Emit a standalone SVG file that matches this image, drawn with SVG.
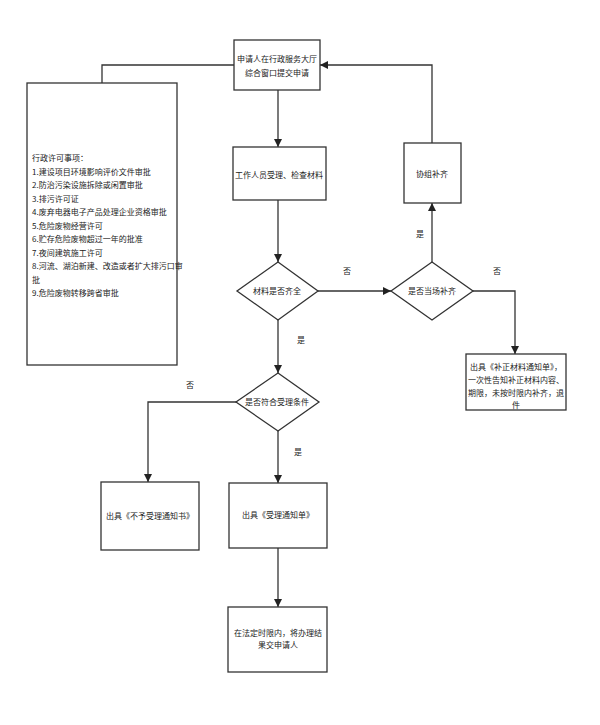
<svg xmlns="http://www.w3.org/2000/svg" width="600" height="725" viewBox="0 0 600 725">
<style>
.box{fill:#fff;stroke:#333;stroke-width:1.3}
.t{font-family:"Noto Sans CJK SC","Liberation Sans",sans-serif;font-size:8px;fill:#222}
.c{text-anchor:middle}
.ln{fill:none;stroke:#333;stroke-width:1.3}
</style>
<defs>
<marker id="ah" viewBox="0 0 10 10" refX="10" refY="5" markerWidth="8" markerHeight="8" markerUnits="userSpaceOnUse" orient="auto">
<path d="M0,0 L10,5 L0,10 z" fill="#222"/>
</marker>
</defs>
<rect width="600" height="725" fill="#fff"/>
<g id="connectors">
<path class="ln" d="M278,90 V147" marker-end="url(#ah)"/>
<path class="ln" d="M278,200 V262" marker-end="url(#ah)"/>
<path class="ln" d="M318,291 H391" marker-end="url(#ah)"/>
<path class="ln" d="M432,262 V203" marker-end="url(#ah)"/>
<path class="ln" d="M432,143 V65 H320" marker-end="url(#ah)"/>
<path class="ln" d="M234,65 H102 V83"/>
<path class="ln" d="M473,291 H515 V354" marker-end="url(#ah)"/>
<path class="ln" d="M278,320 V373" marker-end="url(#ah)"/>
<path class="ln" d="M236,402 H148 V482" marker-end="url(#ah)"/>
<path class="ln" d="M278,431 V483" marker-end="url(#ah)"/>
<path class="ln" d="M278,548 V607" marker-end="url(#ah)"/>
<text class="t c" x="347" y="274">否</text>
<text class="t c" x="497" y="274">否</text>
<text class="t c" x="301" y="343">是</text>
<text class="t c" x="420" y="237">是</text>
<text class="t c" x="190" y="388">否</text>
<text class="t c" x="298" y="455">是</text>
</g>
<g id="apply">
<rect class="box" x="234" y="40" width="86" height="50"/>
<text class="t c" x="277" y="62">申请人在行政服务大厅</text>
<text class="t c" x="277" y="76">综合窗口提交申请</text>
</g>
<g id="items">
<rect class="box" x="27" y="83" width="150" height="282"/>
<text class="t" x="32" y="161">行政许可事项：</text>
<text class="t" x="32" y="174.5">1.建设项目环境影响评价文件审批</text>
<text class="t" x="32" y="188">2.防治污染设施拆除或闲置审批</text>
<text class="t" x="32" y="201.5">3.排污许可证</text>
<text class="t" x="32" y="215">4.废弃电器电子产品处理企业资格审批</text>
<text class="t" x="32" y="228.5">5.危险废物经营许可</text>
<text class="t" x="32" y="242">6.贮存危险废物超过一年的批准</text>
<text class="t" x="32" y="255.5">7.夜间建筑施工许可</text>
<text class="t" x="32" y="269">8.河流、湖泊新建、改造或者扩大排污口审</text>
<text class="t" x="32" y="282.5">批</text>
<text class="t" x="32" y="296">9.危险废物转移跨省审批</text>
</g>
<g id="check">
<rect class="box" x="233" y="147" width="93" height="53"/>
<text class="t c" x="279" y="178">工作人员受理、检查材料</text>
</g>
<g id="assist">
<rect class="box" x="404" y="143" width="57" height="60"/>
<text class="t c" x="432" y="177">协组补齐</text>
</g>
<g id="complete">
<polygon class="box" points="278,262 318,291 278,320 237,291"/>
<text class="t c" x="277" y="294">材料是否齐全</text>
</g>
<g id="onsite">
<polygon class="box" points="432,262 473,291 432,320 391,291"/>
<text class="t c" x="432" y="294">是否当场补齐</text>
</g>
<g id="notice">
<rect class="box" x="466" y="354" width="100" height="56"/>
<text class="t c" x="516" y="370">出具《补正材料通知单》，</text>
<text class="t c" x="516" y="383">一次性告知补正材料内容、</text>
<text class="t c" x="516" y="396">期限，未按时限内补齐，退</text>
<text class="t c" x="516" y="408">件</text>
</g>
<g id="condition">
<polygon class="box" points="278,373 319,402 278,431 236,402"/>
<text class="t c" x="277" y="405">是否符合受理条件</text>
</g>
<g id="reject">
<rect class="box" x="101" y="482" width="98" height="68"/>
<text class="t c" x="150" y="519">出具《不予受理通知书》</text>
</g>
<g id="accept">
<rect class="box" x="229" y="483" width="98" height="65"/>
<text class="t c" x="278" y="518">出具《受理通知单》</text>
</g>
<g id="result">
<rect class="box" x="228" y="607" width="99" height="65"/>
<text class="t c" x="278" y="636">在法定时限内，将办理结</text>
<text class="t c" x="278" y="648">果交申请人</text>
</g>
</svg>
